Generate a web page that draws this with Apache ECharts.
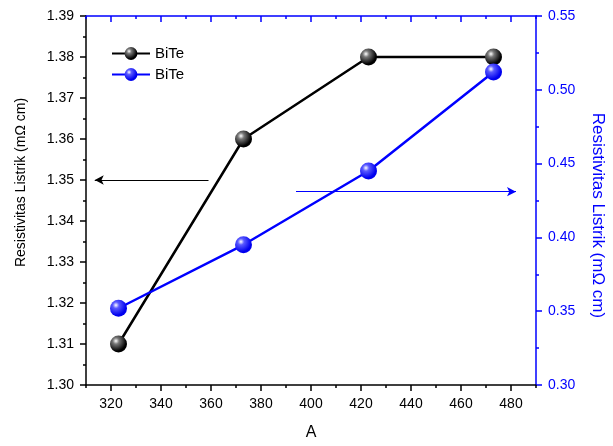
<!DOCTYPE html>
<html>
<head>
<meta charset="utf-8">
<script src="https://cdn.jsdelivr.net/npm/echarts@6/dist/echarts.min.js"></script>
<style>html,body{margin:0;padding:0;background:#fff}#c{width:613px;height:446px}</style>
</head>
<body>
<div id="c"></div>
<script>
// Data
const temps = [323, 373, 423, 473];
const blackSeries = [1.31, 1.36, 1.38, 1.38];
const blueSeries = [0.352, 0.395, 0.445, 0.512];
const xMajorTicks = [320, 340, 360, 380, 400, 420, 440, 460, 480];
const xMinorTicks = [310, 330, 350, 370, 390, 410, 430, 450, 470, 490];
const leftArrow = [[359, 1.35], [313.5, 1.35]];
const rightArrow = [[394, 0.431], [482, 0.431]];

const BLUE = '#0000ff';
const FONT = 'Liberation Sans, Arial, sans-serif';

function sphere(base, mid) {
  return {
    type: 'radial', x: 0.35, y: 0.32, r: 0.75,
    colorStops: [
      {offset: 0, color: '#ffffff'},
      {offset: 0.25, color: mid},
      {offset: 0.8, color: base},
      {offset: 1, color: base}
    ]
  };
}

const chart = echarts.init(document.getElementById('c'), null, {renderer: 'canvas'});

const xCommon = {type: 'value', min: 310, max: 490, splitLine: {show: false}, gridIndex: 0};

const option = {
  animation: false,
  backgroundColor: '#fff',
  textStyle: {fontFamily: FONT},
  grid: {left: 86, right: 77, top: 16, bottom: 61, containLabel: false, outerBoundsMode: 'none'},
  legend: {
    left: 106, top: 41, orient: 'vertical',
    itemWidth: 38, itemHeight: 16, itemGap: 6,
    textStyle: {fontSize: 15, color: '#000', fontFamily: FONT},
    formatter: function () { return 'BiTe'; },
    data: ['BiTe (1)', 'BiTe (2)']
  },
  xAxis: [
    Object.assign({}, xCommon, {
      position: 'bottom', name: 'A', nameLocation: 'middle', nameGap: 40,
      nameTextStyle: {fontSize: 16, color: '#000'},
      axisLine: {show: true, lineStyle: {color: '#000', width: 1.5}},
      axisTick: {show: true, inside: false, length: 6, customValues: xMajorTicks, lineStyle: {color: '#000', width: 1.5}},
      axisLabel: {show: true, customValues: xMajorTicks, color: '#000', fontSize: 14, margin: 12}
    }),
    Object.assign({}, xCommon, {
      position: 'bottom',
      axisLine: {show: false},
      axisTick: {show: true, inside: false, length: 3, customValues: xMinorTicks, lineStyle: {color: '#000', width: 1.5}},
      axisLabel: {show: false}
    }),
    Object.assign({}, xCommon, {
      position: 'top',
      axisLine: {show: true, lineStyle: {color: BLUE, width: 1.5}},
      axisTick: {show: true, inside: true, length: 6, customValues: xMajorTicks, lineStyle: {color: BLUE, width: 1.5}},
      axisLabel: {show: false}
    }),
    Object.assign({}, xCommon, {
      position: 'top',
      axisLine: {show: false},
      axisTick: {show: true, inside: true, length: 3, customValues: xMinorTicks, lineStyle: {color: BLUE, width: 1.5}},
      axisLabel: {show: false}
    })
  ],
  yAxis: [
    {
      type: 'value', position: 'left', min: 1.30, max: 1.39, interval: 0.01,
      name: 'Resistivitas Listrik (m\u03A9 cm)', nameLocation: 'middle', nameGap: 58,
      nameTextStyle: {fontSize: 14, color: '#000', padding: [0, 0, 0, 36]},
      splitLine: {show: false},
      axisLine: {show: true, lineStyle: {color: '#000', width: 1.5}},
      axisTick: {show: true, inside: false, length: 6, lineStyle: {color: '#000', width: 1.5}},
      minorTick: {show: true, splitNumber: 2, length: 3, lineStyle: {color: '#000', width: 1.5}},
      axisLabel: {color: '#000', fontSize: 14, margin: 12, formatter: v => v.toFixed(2)}
    },
    {
      type: 'value', position: 'right', min: 0.30, max: 0.55, interval: 0.05,
      name: 'Resistivitas Listrik (m\u03A9 cm)', nameLocation: 'middle', nameGap: 53, nameRotate: -90,
      nameTextStyle: {fontSize: 17, color: BLUE, padding: [0, 0, 0, 30]},
      splitLine: {show: false},
      axisLine: {show: true, lineStyle: {color: BLUE, width: 1.5}},
      axisTick: {show: true, inside: false, length: 6, lineStyle: {color: BLUE, width: 1.5}},
      minorTick: {show: true, splitNumber: 2, length: 3, lineStyle: {color: BLUE, width: 1.5}},
      axisLabel: {color: BLUE, fontSize: 14, margin: 12, formatter: v => v.toFixed(2)}
    }
  ],
  series: [
    {
      name: 'BiTe (1)', type: 'line', xAxisIndex: 0, yAxisIndex: 0,
      data: temps.map((t, i) => [t, blackSeries[i]]),
      symbol: 'circle', symbolSize: 17,
      lineStyle: {color: '#000', width: 2.5},
      itemStyle: {color: sphere('#000000', '#777777'), borderWidth: 0},
      markLine: {
        silent: true, symbol: ['none', 'arrow'], symbolSize: [7, 9],
        label: {show: false},
        lineStyle: {color: '#000', width: 1.2, type: 'solid'},
        data: [[{coord: leftArrow[0]}, {coord: leftArrow[1]}]]
      },
      z: 3
    },
    {
      name: 'BiTe (2)', type: 'line', xAxisIndex: 0, yAxisIndex: 1,
      data: temps.map((t, i) => [t, blueSeries[i]]),
      symbol: 'circle', symbolSize: 17,
      lineStyle: {color: BLUE, width: 2.5},
      itemStyle: {color: sphere('#0000ee', '#5a5aff'), borderWidth: 0},
      markLine: {
        silent: true, symbol: ['none', 'arrow'], symbolSize: [7, 9],
        label: {show: false},
        lineStyle: {color: BLUE, width: 1.2, type: 'solid'},
        data: [[{coord: rightArrow[0]}, {coord: rightArrow[1]}]]
      },
      z: 4
    }
  ]
};
chart.setOption(option);
</script>
</body>
</html>
